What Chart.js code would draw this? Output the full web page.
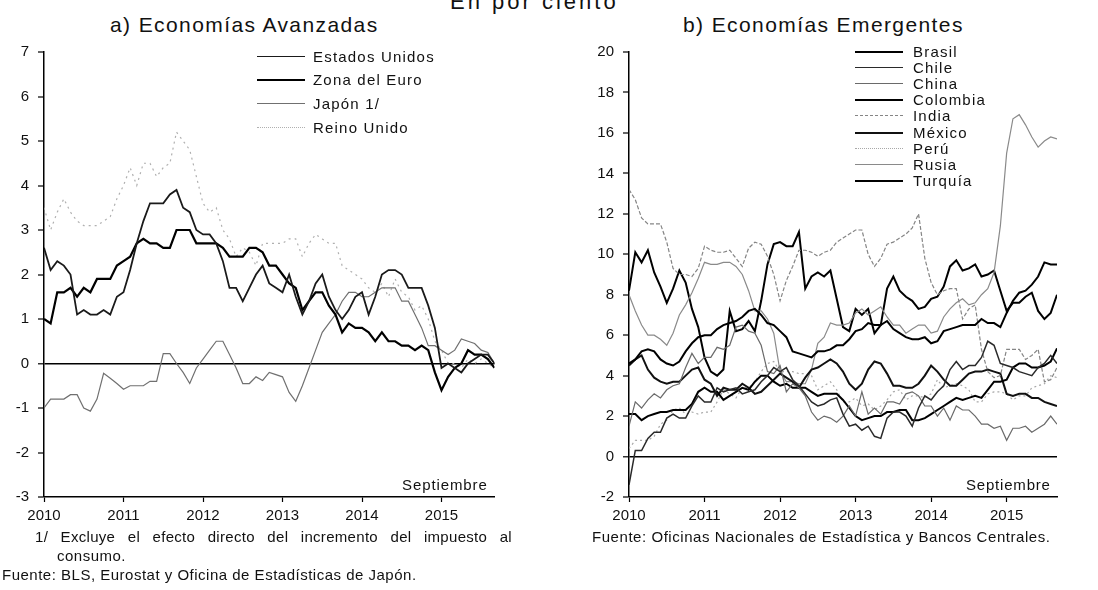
<!DOCTYPE html>
<html>
<head>
<meta charset="utf-8">
<script src="https://cdn.jsdelivr.net/npm/chart.js@4.4.1/dist/chart.umd.min.js"></script>
<style>
  body { margin: 0; width: 1098px; height: 590px; background: #fff; position: relative; overflow: hidden;
         font-family: "Liberation Sans", Arial, sans-serif; color: #111; }
  .t { position: absolute; white-space: nowrap; line-height: 1; }
  canvas { position: absolute; }
  .leg { position: absolute; font-size: 15px; letter-spacing: 1.2px; }
  .leg .row { position: absolute; left: 0; height: 15px; line-height: 15px; white-space: nowrap; }
  .leg .s { position: absolute; left: 0; top: 7px; width: 48px; }
  .leg .lab { position: absolute; }
</style>
</head>
<body>

<div class="t" style="left:450px; top:-9px; font-size:22px; letter-spacing:3px;">En por ciento</div>
<div class="t" style="left:110px; top:14px; font-size:21px; letter-spacing:1.4px;">a) Economías Avanzadas</div>
<div class="t" style="left:683px; top:14px; font-size:21px; letter-spacing:1.4px;">b) Economías Emergentes</div>

<canvas id="chartA" width="540" height="520" style="left:0; top:32px;"></canvas>
<canvas id="chartB" width="549" height="520" style="left:549px; top:32px;"></canvas>

<div class="leg" id="legA" style="left:257px; top:0;"></div>
<div class="leg" id="legB" style="left:855px; top:0;"></div>

<div class="t" style="left:402px; top:477px; font-size:15px; letter-spacing:0.9px;">Septiembre</div>
<div class="t" style="left:966px; top:477px; font-size:15px; letter-spacing:0.8px;">Septiembre</div>

<div class="t" style="left:35px; top:529px; font-size:15px; width:477px; text-align:justify; text-align-last:justify; letter-spacing:0.3px;">1/ Excluye el efecto directo del incremento del impuesto al</div>
<div class="t" style="left:57px; top:548px; font-size:15px; letter-spacing:0.5px;">consumo.</div>
<div class="t" style="left:2px; top:567px; font-size:15px; letter-spacing:0.5px;">Fuente: BLS, Eurostat y Oficina de Estadísticas de Japón.</div>
<div class="t" style="left:592px; top:529px; font-size:15px; letter-spacing:0.55px;">Fuente: Oficinas Nacionales de Estadística y Bancos Centrales.</div>

<script>
// meses desde enero 2010 (índice 0) hasta septiembre 2015 (índice 68)
const yearTicks = [0, 12, 24, 36, 48, 60];
const yearLabels = ['2010', '2011', '2012', '2013', '2014', '2015'];

// a) Economías Avanzadas (var. % anual)
const estadosUnidos = [
  2.6, 2.1, 2.3, 2.2, 2.0, 1.1, 1.2, 1.1, 1.1, 1.2, 1.1, 1.5,
  1.6, 2.1, 2.7, 3.2, 3.6, 3.6, 3.6, 3.8, 3.9, 3.5, 3.4, 3.0,
  2.9, 2.9, 2.7, 2.3, 1.7, 1.7, 1.4, 1.7, 2.0, 2.2, 1.8, 1.7,
  1.6, 2.0, 1.5, 1.1, 1.4, 1.8, 2.0, 1.5, 1.2, 1.0, 1.2, 1.5,
  1.6, 1.1, 1.5, 2.0, 2.1, 2.1, 2.0, 1.7, 1.7, 1.7, 1.3, 0.8,
  -0.1, 0.0, -0.1, -0.2, 0.0, 0.1, 0.2, 0.2, 0.0
];
const zonaEuro = [
  1.0, 0.9, 1.6, 1.6, 1.7, 1.5, 1.7, 1.6, 1.9, 1.9, 1.9, 2.2,
  2.3, 2.4, 2.7, 2.8, 2.7, 2.7, 2.6, 2.6, 3.0, 3.0, 3.0, 2.7,
  2.7, 2.7, 2.7, 2.6, 2.4, 2.4, 2.4, 2.6, 2.6, 2.5, 2.2, 2.2,
  2.0, 1.8, 1.7, 1.2, 1.4, 1.6, 1.6, 1.3, 1.1, 0.7, 0.9, 0.8,
  0.8, 0.7, 0.5, 0.7, 0.5, 0.5, 0.4, 0.4, 0.3, 0.4, 0.3, -0.2,
  -0.6, -0.3, -0.1, 0.0, 0.3, 0.2, 0.2, 0.1, -0.1
];
const japon = [
  -1.0, -0.8, -0.8, -0.8, -0.7, -0.7, -1.0, -1.07, -0.8, -0.22, -0.33, -0.45,
  -0.58, -0.5, -0.5, -0.5, -0.4, -0.4, 0.22, 0.22, 0.0, -0.2, -0.45, -0.1,
  0.1, 0.3, 0.5, 0.5, 0.2, -0.1, -0.45, -0.45, -0.3, -0.38, -0.2, -0.25,
  -0.3, -0.65, -0.85, -0.5, -0.1, 0.3, 0.7, 0.9, 1.1, 1.4, 1.6, 1.6,
  1.5, 1.5, 1.6, 1.7, 1.7, 1.7, 1.4, 1.4, 1.1, 0.8, 0.4, 0.4,
  0.3, 0.2, 0.3, 0.55, 0.5, 0.45, 0.3, 0.25, 0.0
];
const reinoUnido = [
  3.5, 3.0, 3.4, 3.7, 3.4, 3.2, 3.1, 3.1, 3.1, 3.2, 3.3, 3.7,
  4.0, 4.4, 4.0, 4.5, 4.5, 4.2, 4.4, 4.5, 5.2, 5.0, 4.8, 4.2,
  3.6, 3.4, 3.5, 3.0, 2.8, 2.4, 2.6, 2.5, 2.2, 2.7, 2.7, 2.7,
  2.7, 2.8, 2.8, 2.4, 2.7, 2.9, 2.8, 2.7, 2.7, 2.2, 2.1, 2.0,
  1.9, 1.7, 1.6, 1.8, 1.5, 1.9, 1.6, 1.5, 1.2, 1.3, 1.0, 0.5,
  0.3, 0.0, 0.0, -0.1, 0.1, 0.0, 0.1, 0.0, -0.1
];

// b) Economías Emergentes (var. % anual)
const brasil = [
  4.6, 4.8, 5.2, 5.3, 5.2, 4.8, 4.6, 4.5, 4.7, 5.2, 5.6, 5.9,
  6.0, 6.0, 6.3, 6.5, 6.6, 6.7, 6.9, 7.2, 7.3, 7.0, 6.6, 6.5,
  6.2, 5.9, 5.2, 5.1, 5.0, 4.9, 5.2, 5.2, 5.3, 5.5, 5.5, 5.8,
  6.2, 6.3, 6.6, 6.5, 6.5, 6.7, 6.3, 6.1, 5.9, 5.8, 5.8, 5.9,
  5.6, 5.7, 6.2, 6.3, 6.4, 6.5, 6.5, 6.5, 6.8, 6.6, 6.6, 6.4,
  7.1, 7.7, 8.1, 8.2, 8.5, 8.9, 9.6, 9.5, 9.5
];
const chile = [
  -1.4, 0.3, 0.3, 0.9, 1.2, 1.2, 1.9, 2.1, 1.9, 1.9, 2.5, 3.0,
  2.7, 2.7, 3.4, 3.2, 3.3, 3.4, 3.1, 3.2, 3.3, 3.7, 4.0, 4.4,
  4.2, 4.4, 3.8, 3.5, 3.1, 2.7, 2.5, 2.6, 2.8, 2.9, 2.1, 1.5,
  1.6, 1.3, 1.5, 1.0, 0.9, 1.9, 2.2, 2.2, 2.0, 1.5, 2.4, 3.0,
  2.8, 3.2, 3.5, 4.3, 4.7, 4.3, 4.5, 4.5, 4.9, 5.7, 5.5, 4.6,
  4.5, 4.4, 4.2, 4.1, 4.0, 4.4, 4.6, 5.0, 4.6
];
const china = [
  1.5, 2.7, 2.4, 2.8, 3.1, 2.9, 3.3, 3.5, 3.6, 4.4, 5.1, 4.6,
  4.9, 4.9, 5.4, 5.3, 5.5, 6.4, 6.5, 6.2, 6.1, 5.5, 4.2, 4.1,
  4.5, 3.2, 3.6, 3.4, 3.0, 2.2, 1.8, 2.0, 1.9, 1.7, 2.0, 2.5,
  2.0, 3.2, 2.1, 2.4, 2.1, 2.7, 2.7, 2.6, 3.1, 3.2, 3.0, 2.5,
  2.5, 2.0, 2.4, 1.8, 2.5, 2.3, 2.3, 2.0, 1.6, 1.6, 1.4, 1.5,
  0.8, 1.4, 1.4, 1.5, 1.2, 1.4, 1.6, 2.0, 1.6
];
const colombia = [
  2.1, 2.1, 1.8, 2.0, 2.1, 2.2, 2.2, 2.3, 2.3, 2.3, 2.6, 3.2,
  3.4, 3.2, 3.2, 2.8, 3.0, 3.2, 3.4, 3.3, 3.7, 4.0, 4.0, 3.7,
  3.5, 3.6, 3.4, 3.4, 3.4, 3.2, 3.0, 3.1, 3.1, 3.1, 2.8, 2.4,
  2.0, 1.8, 1.9, 2.0, 2.0, 2.2, 2.2, 2.3, 2.3, 1.8, 1.8, 1.9,
  2.1, 2.3, 2.5, 2.7, 2.9, 2.8, 2.9, 3.0, 2.9, 3.3, 3.7, 3.7,
  3.8, 4.4, 4.6, 4.6, 4.4, 4.4, 4.5, 4.7, 5.35
];
const india = [
  13.2, 12.7, 11.8, 11.5, 11.5, 11.5, 10.6, 9.3, 9.0, 9.0, 8.9, 9.3,
  10.4, 10.2, 10.1, 10.1, 10.2, 9.8, 9.4, 10.3, 10.6, 10.5, 9.9, 9.0,
  7.7, 8.7, 9.4, 10.2, 10.2, 10.1, 9.9, 10.1, 10.2, 10.6, 10.8, 11.0,
  11.2, 11.2, 10.0, 9.4, 9.8, 10.5, 10.6, 10.8, 11.0, 11.3, 12.0, 9.8,
  8.6, 8.0, 8.2, 8.3, 8.3, 6.8, 7.3, 7.5, 5.3, 4.2, 3.9, 4.0,
  5.3, 5.3, 5.3, 4.8, 5.0, 5.3, 3.7, 3.8, 4.4
];
const mexico = [
  4.5, 4.8, 5.0, 4.3, 3.9, 3.7, 3.6, 3.7, 3.7, 4.0, 4.3, 4.4,
  3.8, 3.6, 3.0, 3.4, 3.3, 3.3, 3.6, 3.4, 3.1, 3.2, 3.5, 3.8,
  4.1, 3.9, 3.7, 3.4, 3.9, 4.3, 4.4, 4.6, 4.8, 4.6, 4.2, 3.6,
  3.3, 3.6, 4.3, 4.7, 4.6, 4.1, 3.5, 3.5, 3.4, 3.4, 3.6, 4.0,
  4.5, 4.2, 3.8, 3.5, 3.5, 3.8, 4.1, 4.2, 4.2, 4.3, 4.2, 4.1,
  3.1, 3.0, 3.1, 3.1, 2.9, 2.9, 2.7, 2.6, 2.5
];
const peru = [
  0.4, 0.8, 0.8, 0.8, 1.0, 1.6, 1.8, 2.3, 2.4, 2.1, 2.2, 2.1,
  2.2, 2.2, 2.7, 3.3, 3.1, 2.9, 3.4, 3.4, 3.7, 4.2, 4.6, 4.7,
  4.2, 4.2, 4.2, 4.1, 4.1, 4.0, 3.3, 3.5, 3.7, 3.3, 2.7, 2.7,
  2.9, 2.5, 2.6, 2.3, 2.5, 2.8, 3.2, 3.3, 2.8, 3.0, 3.0, 2.9,
  3.1, 3.8, 3.4, 3.5, 3.6, 3.5, 3.3, 2.7, 2.7, 3.1, 3.2, 3.2,
  3.1, 2.8, 3.0, 3.0, 3.4, 3.5, 3.6, 4.0, 3.9
];
const rusia = [
  8.0, 7.2, 6.5, 6.0, 6.0, 5.8, 5.5, 6.1, 7.0, 7.5, 8.1, 8.8,
  9.6, 9.5, 9.5, 9.6, 9.6, 9.4, 9.0, 8.2, 7.2, 7.2, 6.8, 6.1,
  4.2, 3.7, 3.7, 3.6, 3.6, 4.3, 5.6, 5.9, 6.6, 6.5, 6.5, 6.6,
  7.1, 7.3, 7.0, 7.2, 7.4, 6.9, 6.5, 6.5, 6.1, 6.3, 6.5, 6.5,
  6.1, 6.2, 6.9, 7.3, 7.6, 7.8, 7.5, 7.6, 8.0, 8.3, 9.1, 11.4,
  15.0, 16.7, 16.9, 16.4, 15.8, 15.3, 15.6, 15.8, 15.7
];
const turquia = [
  8.2, 10.1, 9.6, 10.2, 9.1, 8.4, 7.6, 8.3, 9.2, 8.6, 7.3, 6.4,
  4.9, 4.2, 4.0, 4.3, 7.2, 6.2, 6.3, 6.7, 6.2, 7.7, 9.5, 10.5,
  10.6, 10.4, 10.4, 11.1, 8.3, 8.9, 9.1, 8.9, 9.2, 7.8, 6.4, 6.2,
  7.3, 7.0, 7.3, 6.1, 6.5, 8.3, 8.9, 8.2, 7.9, 7.7, 7.3, 7.4,
  7.8, 7.9, 8.4, 9.4, 9.7, 9.2, 9.3, 9.5, 8.9, 9.0, 9.2, 8.2,
  7.2, 7.6, 7.6, 7.9, 8.1, 7.2, 6.8, 7.1, 8.0
];

function serie(label, values, color, width, dash) {
  return {
    label: label,
    data: values.map((v, i) => ({ x: i, y: v })),
    borderColor: color,
    borderWidth: width,
    borderDash: dash || [],
    pointRadius: 0,
    tension: 0,
    fill: false
  };
}

function opciones(yMin, yMax, yStep, pad) {
  return {
    responsive: false,
    animation: false,
    layout: { padding: pad },
    plugins: { legend: { display: false }, tooltip: { enabled: false } },
    scales: {
      x: {
        type: 'linear', min: 0, max: 68,
        afterFit: s => { s.height = 55; },
        afterBuildTicks: s => { s.ticks = yearTicks.map(v => ({ value: v })); },
        ticks: {
          callback: (v) => yearLabels[yearTicks.indexOf(v)],
          font: { family: 'Liberation Sans', size: 15 }, color: '#111',
          padding: 5, maxRotation: 0, autoSkip: false
        },
        grid: { drawOnChartArea: false, tickLength: 5, tickColor: '#000', tickWidth: 1.2 },
        border: { color: '#000', width: 1.5 }
      },
      y: {
        min: yMin, max: yMax,
        afterFit: s => { s.width = 40; },
        ticks: {
          stepSize: yStep,
          font: { family: 'Liberation Sans', size: 15 }, color: '#111',
          padding: 9
        },
        grid: {
          color: c => (c.tick && c.tick.value === 0) ? '#000' : 'rgba(0,0,0,0)',
          lineWidth: c => (c.tick && c.tick.value === 0) ? 1.6 : 0,
          tickLength: 6, tickColor: '#000', tickWidth: 1.2
        },
        border: { color: '#000', width: 1.5 }
      }
    }
  };
}

const estilosA = [
  ['Estados Unidos', estadosUnidos, '#1a1a1a', 1.8, []],
  ['Zona del Euro', zonaEuro, '#000', 2.2, []],
  ['Japón 1/', japon, '#707070', 1.2, []],
  ['Reino Unido', reinoUnido, '#b0b0b0', 1.2, [2, 4]]
];
const estilosB = [
  ['Brasil', brasil, '#000', 2, []],
  ['Chile', chile, '#2a2a2a', 1.5, []],
  ['China', china, '#6a6a6a', 1.2, []],
  ['Colombia', colombia, '#000', 2, []],
  ['India', india, '#858585', 1.2, [4, 2]],
  ['México', mexico, '#111', 2, []],
  ['Perú', peru, '#a8a8a8', 1.2, [2, 3]],
  ['Rusia', rusia, '#8a8a8a', 1.2, []],
  ['Turquía', turquia, '#000', 2, []]
];

new Chart(document.getElementById('chartA'), {
  type: 'line',
  data: { datasets: estilosA.map(e => serie(e[0], e[1], e[2], e[3], e[4])) },
  options: opciones(-3, 7, 1, { left: 4, top: 20, right: 45.5, bottom: 0 })
});

new Chart(document.getElementById('chartB'), {
  type: 'line',
  data: { datasets: estilosB.map(e => serie(e[0], e[1], e[2], e[3], e[4])) },
  options: opciones(-2, 20, 2, { left: 40, top: 20, right: 41, bottom: 0 })
});

// leyendas
function leyenda(id, estilos, y0, dy, textX) {
  const box = document.getElementById(id);
  estilos.forEach((e, i) => {
    const row = document.createElement('div');
    row.className = 'row';
    row.style.top = (y0 + i * dy - 7.5) + 'px';
    const s = document.createElement('div');
    s.className = 's';
    const estilo = e[4].length ? (e[4][0] <= 2 ? 'dotted' : 'dashed') : 'solid';
    s.style.borderTop = Math.max(1, e[3]) + 'px ' + estilo + ' ' + e[2];
    const lab = document.createElement('span');
    lab.className = 'lab';
    lab.style.left = textX + 'px';
    lab.textContent = e[0];
    row.appendChild(s);
    row.appendChild(lab);
    box.appendChild(row);
  });
}
leyenda('legA', estilosA, 56, 23.7, 56);
leyenda('legB', estilosB, 51.5, 16.1, 58);
</script>
</body>
</html>
